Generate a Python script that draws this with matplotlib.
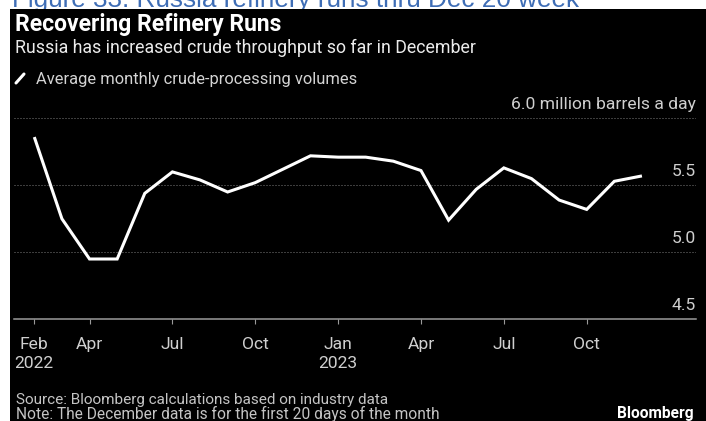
import matplotlib
matplotlib.use("Agg")
import matplotlib.pyplot as plt
from matplotlib.patches import Rectangle
from matplotlib.lines import Line2D
from matplotlib.font_manager import FontProperties
from matplotlib import transforms
import numpy as np

# ---- data -------------------------------------------------------------
months = ["2022-02", "2022-03", "2022-04", "2022-05", "2022-06", "2022-07",
          "2022-08", "2022-09", "2022-10", "2022-11", "2022-12", "2023-01",
          "2023-02", "2023-03", "2023-04", "2023-05", "2023-06", "2023-07",
          "2023-08", "2023-09", "2023-10", "2023-11", "2023-12"]
runs = [5.86, 5.25, 4.95, 4.95, 5.44, 5.60, 5.54, 5.45, 5.52, 5.62, 5.72, 5.71,
        5.71, 5.68, 5.61, 5.24, 5.47, 5.63, 5.55, 5.39, 5.32, 5.53, 5.57]
tick_months = ["2022-02", "2022-04", "2022-07", "2022-10",
               "2023-01", "2023-04", "2023-07", "2023-10"]
tick_labels = ["Feb\n2022", "Apr", "Jul", "Oct", "Jan\n2023", "Apr", "Jul", "Oct"]
y_levels = [4.5, 5.0, 5.5, 6.0]
y_labels = ["4.5", "5.0", "5.5", "6.0 million barrels a day"]

# ---- canvas -----------------------------------------------------------
W, H, DPI = 706, 421, 100
FONT = ["Roboto", "DejaVu Sans"]
plt.rcParams["font.family"] = FONT

fig = plt.figure(figsize=(W / DPI, H / DPI), dpi=DPI, facecolor="white")
renderer = fig.canvas.get_renderer()


def fy(y):
    return 1 - y / H


def px_text(x, y, s, width=None, size=10, **kw):
    """Place text at pixel coords; optionally scale the font to a pixel width."""
    t = fig.text(x / W, fy(y), s, fontsize=size, **kw)
    if width is not None:
        bw = t.get_window_extent(renderer).width
        t.set_fontsize(size * width / bw)
    return t


# report caption above the dark panel (partly covered by it)
px_text(12, 6.5, "Figure 33: Russia refinery runs thru Dec 20 week", width=571,
        color="#3E6DB5", family=["Liberation Sans", "DejaVu Sans"],
        va="baseline", zorder=0.5)

fig.add_artist(Rectangle((10 / W, 0), 1, fy(9), transform=fig.transFigure,
                         facecolor="black", edgecolor="none", zorder=1))

# headings
px_text(15, 31, "Recovering Refinery Runs", width=265, color="white",
        weight="bold", va="baseline")
px_text(15, 52.7, "Russia has increased crude throughput so far in December",
        width=461, color="#ebebeb", va="baseline")
fig.add_artist(Line2D([16 / W, 24 / W], [fy(83), fy(74)], color="white",
                      lw=2.2, solid_capstyle="round", zorder=3))
px_text(36, 84, "Average monthly crude-processing volumes", width=321,
        color="#d4d4d4", va="baseline")

# footer
px_text(16, 404, "Source: Bloomberg calculations based on industry data",
        width=372, color="#c4c4c4", va="baseline")
px_text(16, 418.5, "Note: The December data is for the first 20 days of the month",
        width=424, color="#c4c4c4", va="baseline")
px_text(693.3, 417.7, "Bloomberg", width=76.6, color="white", weight="bold",
        ha="right", va="baseline")

# ---- axes -------------------------------------------------------------
ax_left, ax_right, ax_top, ax_bottom = 14, 696, 118.3, 319.3
ax = fig.add_axes([ax_left / W, fy(ax_bottom), (ax_right - ax_left) / W,
                   (ax_bottom - ax_top) / H])
ax.set_zorder(2)
ax.set_facecolor("none")

x = np.arange(len(months))
tick_x = [months.index(m) for m in tick_months]

step = 27.62  # pixels per month
first_px = 34.3
ax.set_xlim((ax_left - first_px) / step, (ax_right - first_px) / step)
ax.set_ylim(y_levels[0], y_levels[-1])

for v in y_levels[1:]:
    ax.axhline(v, color="#7a7a7a", lw=0.72, ls=(0, (1, 2)), zorder=1)

ax.plot(x, runs, color="white", lw=2.2, solid_joinstyle="miter",
        solid_capstyle="butt", clip_on=False, zorder=3)

for s in ("top", "left", "right"):
    ax.spines[s].set_visible(False)
ax.spines["bottom"].set_color("#9a9a9a")
ax.spines["bottom"].set_linewidth(1.1)
ax.set_yticks([])

# axis label size, fitted to the unit label width
probe = fig.text(0, 0, y_labels[-1], fontsize=10)
lab_size = 10 * 184 / probe.get_window_extent(renderer).width
probe.remove()

lab_off = transforms.offset_copy(ax.get_yaxis_transform(), fig=fig,
                                 x=0, y=9.5, units="dots")
for v, s in zip(y_levels, y_labels):
    ax.text(1.0, v, s, transform=lab_off, ha="right", va="baseline",
            color="#cfcfcf", fontsize=lab_size)

# x tick labels: first baseline 347.7 px, second 366 px
prop = FontProperties(family=FONT, size=lab_size)
h, w_, d = renderer.get_text_width_height_descent("lp", prop, ismath=False)
asc = h - d
tick_len_px = 5
pad_px = (347.7 - asc) - ax_bottom - tick_len_px
ax.set_xticks(tick_x)
ax.set_xticklabels(tick_labels, linespacing=(18.3 - d) / asc)
ax.tick_params(axis="x", length=tick_len_px * 72 / DPI, width=0.8,
               color="#9a9a9a", labelcolor="#cfcfcf", labelsize=lab_size,
               pad=pad_px * 72 / DPI)

fig.savefig("out.png", dpi=DPI, facecolor="white")
